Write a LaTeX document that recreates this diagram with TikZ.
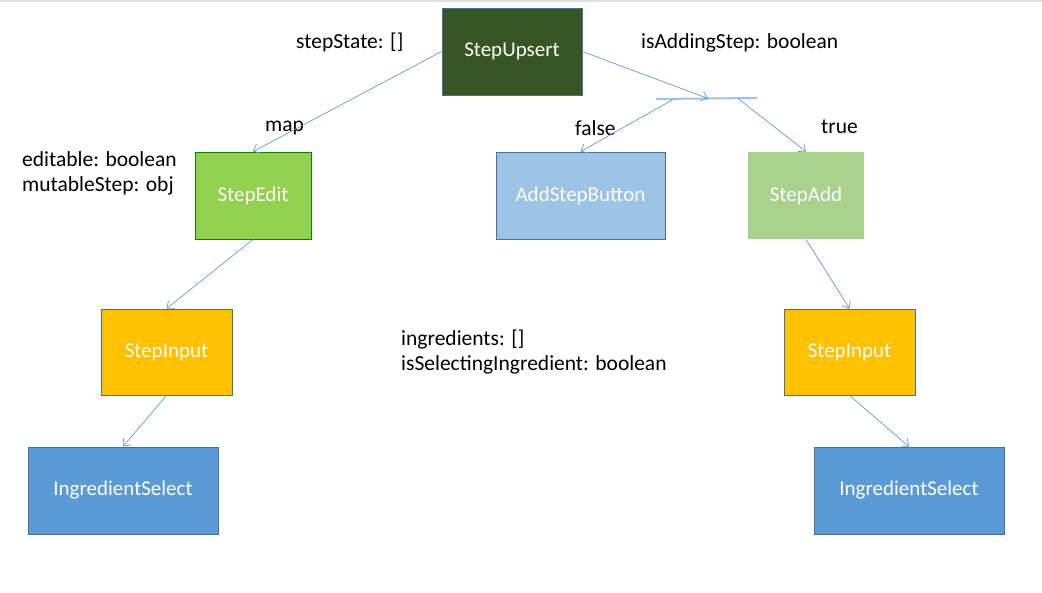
\documentclass[tikz,border=0pt]{standalone}
\usepackage{fontspec}
\setmainfont{Carlito}
\usepackage{xcolor}
\usepackage{tikz}
\usetikzlibrary{arrows.meta}

\definecolor{darkgreen}{HTML}{375623}
\definecolor{lightgreen}{HTML}{92D050}
\definecolor{palegreen}{HTML}{A9D18E}
\definecolor{paleblue}{HTML}{9DC3E6}
\definecolor{midblue}{HTML}{5B9BD5}
\definecolor{amber}{HTML}{FFC000}
\definecolor{edgeblue}{HTML}{41719C}

\tikzset{
  box/.style={rectangle,draw=edgeblue,line width=0.8pt,inner sep=0pt,text=white,font=\fontsize{21}{24}\selectfont},
  lbl/.style={anchor=west,align=left,inner sep=0pt,font=\fontsize{21.5}{25}\selectfont},
  link/.style={draw=midblue,line width=0.7pt,-{Straight Barb[length=6pt,width=10pt]}},
}

\begin{document}
\begin{tikzpicture}[x=1pt,y=-1pt]
\useasboundingbox (0,0) rectangle (1042,592);
\draw[black!12,line width=2pt] (0,1) -- (1042,1);
\node (1) at (512,51.5) [box,fill=darkgreen,minimum width=140pt,minimum height=87pt] {StepUpsert};
\node (2) at (253,195.5) [box,fill=lightgreen,draw=black!50!green,minimum width=116pt,minimum height=87pt] {StepEdit};
\node (3) at (580.5,195.5) [box,fill=paleblue,minimum width=169pt,minimum height=87pt] {AddStepButton};
\node (4) at (806,195.5) [box,fill=palegreen,draw=none,minimum width=116pt,minimum height=87pt] {StepAdd};
\node (5) at (166.5,352) [box,fill=amber,minimum width=131pt,minimum height=86pt] {StepInput};
\node (6) at (123,490.5) [box,fill=midblue,minimum width=190pt,minimum height=87pt] {IngredientSelect};
\node (7) at (849.5,352) [box,fill=amber,minimum width=131pt,minimum height=86pt] {StepInput};
\node (8) at (909,490.5) [box,fill=midblue,minimum width=190pt,minimum height=87pt] {IngredientSelect};
% labels
\node (s) at (296,42) [lbl] {stepState: []};
\node (a) at (641,43) [lbl] {isAddingStep: boolean};
\node (m) at (265,128) [lbl] {map};
\node (f) at (575,128) [lbl] {false};
\node (t) at (821,127) [lbl] {true};
\node (e) at (22,173.5) [lbl] {editable: boolean\\mutableStep: obj};
\node (i) at (401,352.5) [lbl] {ingredients: []\\isSelectingIngredient: boolean};
% switch bar
\coordinate (bl) at (656,99);
\coordinate (br) at (757,98);
\coordinate (bm) at (708,98.5);
\coordinate (bf) at (673,99.5);
\coordinate (bt) at (738,98.5);
\draw[paleblue,line width=2pt] (bl) -- (br);
\draw[link] (1.west) -- (2.north);
\draw[link] (1.east) -- (bm);
\draw[link] (bf) -- (3.north);
\draw[link] (bt) -- (4.north);
\draw[link] (2.south) -- (5.north);
\draw[link] (5.south) -- (6.north);
\draw[link] (4.south) -- (7.north);
\draw[link] (7.south) -- (8.north);
\end{tikzpicture}
\end{document}
